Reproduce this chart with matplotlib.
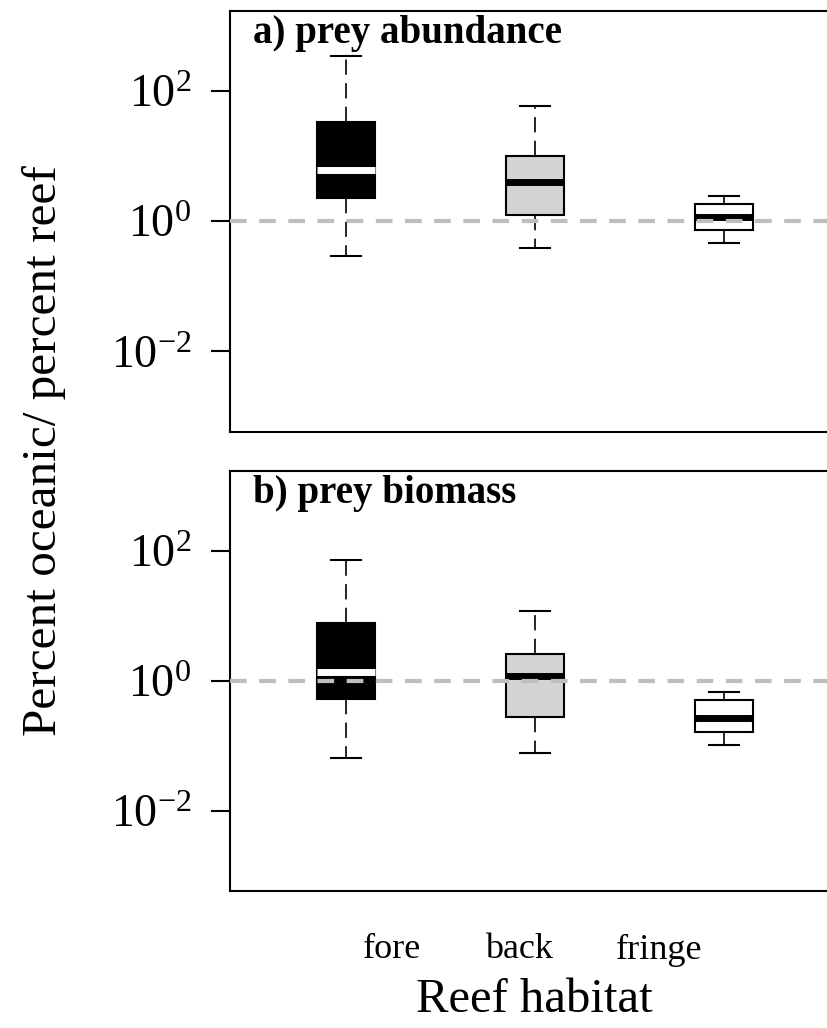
import matplotlib
matplotlib.use('Agg')
import matplotlib.pyplot as plt

# ---- data ----
habitats = ['fore', 'back', 'fringe']

abund_low = [0.296, 0.389, 0.459]
abund_q1 = [2.26, 1.24, 0.72]
abund_med = [6.1, 3.98, 1.15]
abund_q3 = [33.7, 10.0, 1.85]
abund_high = [347.0, 59.4, 2.42]

bio_low = [0.0638, 0.0762, 0.102]
bio_q1 = [0.528, 0.279, 0.162]
bio_med = [1.36, 1.19, 0.267]
bio_q3 = [7.8, 2.6, 0.51]
bio_high = [72.7, 11.9, 0.66]

panel_titles = ['a) prey abundance', 'b) prey biomass']
box_faces = ['black', '#D3D3D3', 'white']
median_colors = ['white', 'black', 'black']
ref_value = 1.0

plt.rcParams['font.family'] = ['Liberation Serif', 'DejaVu Serif']
plt.rcParams['mathtext.fontset'] = 'stix'
plt.rcParams['lines.scale_dashes'] = False

W, H = 828, 1028
fig = plt.figure(figsize=(W / 100, H / 100), dpi=100)

def px_axes(left, top, right, bottom):
    return fig.add_axes([left / W, 1 - bottom / H, (right - left) / W, (bottom - top) / H])

axes = [px_axes(230, 11, 840, 432), px_axes(230, 471, 840, 891)]
panels = [
    (abund_low, abund_q1, abund_med, abund_q3, abund_high),
    (bio_low, bio_q1, bio_med, bio_q3, bio_high),
]

for ax, data, title in zip(axes, panels, panel_titles):
    lo, q1, med, q3, hi = data
    ax.set_yscale('log')
    ax.set_xlim(0.386, 3.614)
    ax.set_ylim(10 ** -3.24, 10 ** 3.23)
    for i in range(len(habitats)):
        st = [dict(whislo=lo[i], q1=q1[i], med=med[i], q3=q3[i], whishi=hi[i],
                   fliers=[], label=habitats[i])]
        ax.bxp(st, positions=[i + 1], widths=0.307, capwidths=0.16,
               showfliers=False, patch_artist=True,
               boxprops=dict(facecolor=box_faces[i], edgecolor='black', linewidth=1.5),
               medianprops=dict(color=median_colors[i], linewidth=5.0, solid_capstyle='butt'),
               whiskerprops=dict(color='black', linewidth=1.2, linestyle=(0, (11, 6))),
               capprops=dict(color='black', linewidth=1.5),
               manage_ticks=False)
    ax.axhline(ref_value, color='#BEBEBE', linewidth=3, linestyle=(0, (12, 9)), zorder=5)
    ax.set_xticks([])
    ax.set_yticks([1e-2, 1e0, 1e2])
    ax.yaxis.set_minor_locator(matplotlib.ticker.NullLocator())
    ax.tick_params(axis='y', which='major', direction='out', length=14, width=1.5,
                   labelsize=33, pad=14)
    for sp in ax.spines.values():
        sp.set_linewidth(1.5)
    ax.text(0.038, 0.924, title, transform=ax.transAxes, ha='left', va='baseline',
            fontsize=28, fontweight='bold')

fig.text(44 / W, 1 - 451 / H, 'Percent oceanic/ percent reef', rotation=90,
         ha='center', va='center', fontsize=35.5)

label_x = [392, 519, 659]
for x, lab in zip(label_x, habitats):
    fig.text(x / W, 1 - 950 / H, lab, ha='center', va='center', fontsize=26)
fig.text(534 / W, 1 - 1000 / H, 'Reef habitat', ha='center', va='center', fontsize=35)

fig.savefig('out.png', dpi=100)
